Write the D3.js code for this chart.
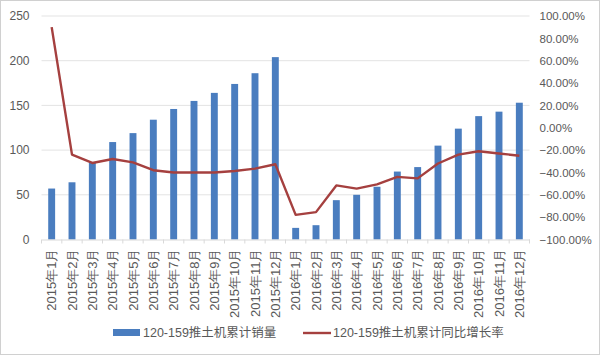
<!DOCTYPE html>
<html><head><meta charset="utf-8">
<script src="https://cdn.jsdelivr.net/npm/d3@7"></script>
<style>
html,body{margin:0;padding:0;background:#fff;}
svg{display:block;font-family:"Liberation Sans","Noto Sans CJK SC",sans-serif;}
</style></head>
<body><svg id="c" width="600" height="355"></svg>
<script>
const categories = ["2015年1月","2015年2月","2015年3月","2015年4月","2015年5月","2015年6月","2015年7月","2015年8月","2015年9月","2015年10月","2015年11月","2015年12月",
"2016年1月","2016年2月","2016年3月","2016年4月","2016年5月","2016年6月","2016年7月","2016年8月","2016年9月","2016年10月","2016年11月","2016年12月"];
const sales = [57,64,86,109,119,134,146,155,164,174,186,204,13,16,44,50,59,76,81,105,124,138,143,153];
const growth = [0.90,-0.24,-0.315,-0.28,-0.31,-0.38,-0.40,-0.40,-0.40,-0.387,-0.366,-0.327,-0.78,-0.755,-0.516,-0.545,-0.507,-0.44,-0.453,-0.32,-0.24,-0.21,-0.23,-0.25];
const leftTicks = [0,50,100,150,200,250];
const rightTicks = [-1,-0.8,-0.6,-0.4,-0.2,0,0.2,0.4,0.6,0.8,1];
const seriesNames = ["120-159推土机累计销量","120-159推土机累计同比增长率"];

const svg = d3.select("#c");
const pL = 41.5, pR = 529.5, pT = 16, pB = 239.5;
const barColor = "#4a7dbf", lineColor = "#a5403f", textColor = "#595959";

svg.append("rect").attr("x",0.5).attr("y",0.5).attr("width",599).attr("height",354)
  .attr("fill","#fff").attr("stroke","#d0d0d0");

const x = d3.scaleBand().domain(categories).range([pL,pR]).paddingInner(0.66).paddingOuter(0.33);
const yL = d3.scaleLinear().domain([0,250]).range([pB,pT]);
const yR = d3.scaleLinear().domain([-1,1]).range([pB,pT]);

// gridlines
svg.append("g").selectAll("line").data(leftTicks.slice(1)).join("line")
  .attr("x1",pL).attr("x2",pR).attr("y1",d=>yL(d)).attr("y2",d=>yL(d))
  .attr("stroke","#e3e3e3").attr("stroke-width",1);

// left axis
const gl = svg.append("g").attr("transform",`translate(${pL},0)`)
  .call(d3.axisLeft(yL).tickValues(leftTicks).tickSize(0).tickPadding(12));
gl.select(".domain").remove();
gl.selectAll("text").attr("fill",textColor).style("font-size","12px");

// right axis
const gr = svg.append("g").attr("transform",`translate(${pR},0)`)
  .call(d3.axisRight(yR).tickValues(rightTicks).tickSize(0).tickPadding(10).tickFormat(d=>d3.format(".2f")(d*100)+"%"));
gr.select(".domain").remove();
gr.selectAll("text").attr("fill",textColor).style("font-size","11.5px");

// bars
svg.append("g").selectAll("rect").data(sales).join("rect")
  .attr("x",(d,i)=>x(categories[i])).attr("width",x.bandwidth())
  .attr("y",d=>yL(d)).attr("height",d=>yL(0)-yL(d)).attr("fill",barColor);

// bottom axis
const gx = svg.append("g").attr("transform",`translate(0,${pB})`)
  .call(d3.axisBottom(x).tickSize(0).tickPadding(0));
gx.select(".domain").attr("stroke","#d9d9d9");
gx.selectAll("text").attr("fill",textColor).style("font-size","13px")
  .attr("transform","rotate(-90)").attr("text-anchor","end")
  .attr("x",-9).attr("y",0).attr("dy","0.35em");
// category separator ticks
const step = x.step();
svg.append("g").selectAll("line").data(d3.range(categories.length+1)).join("line")
  .attr("x1",i=>pL+i*step).attr("x2",i=>pL+i*step).attr("y1",pB).attr("y2",pB+4)
  .attr("stroke","#d9d9d9");

// line
const line = d3.line().x((d,i)=>x(categories[i])+x.bandwidth()/2).y(d=>yR(d));
svg.append("path").datum(growth).attr("d",line).attr("fill","none")
  .attr("stroke",lineColor).attr("stroke-width",2.4).attr("stroke-linejoin","round");

// legend
const lg = svg.append("g");
lg.append("rect").attr("x",113).attr("y",329).attr("width",27).attr("height",7).attr("fill",barColor);
lg.append("text").attr("x",143).attr("y",333).attr("dy","0.35em").attr("fill",textColor)
  .style("font-size","12.5px").text(seriesNames[0]);
lg.append("line").attr("x1",303).attr("x2",331).attr("y1",333).attr("y2",333)
  .attr("stroke",lineColor).attr("stroke-width",2.4);
lg.append("text").attr("x",333).attr("y",333).attr("dy","0.35em").attr("fill",textColor)
  .style("font-size","12.5px").text(seriesNames[1]);
</script></body></html>
